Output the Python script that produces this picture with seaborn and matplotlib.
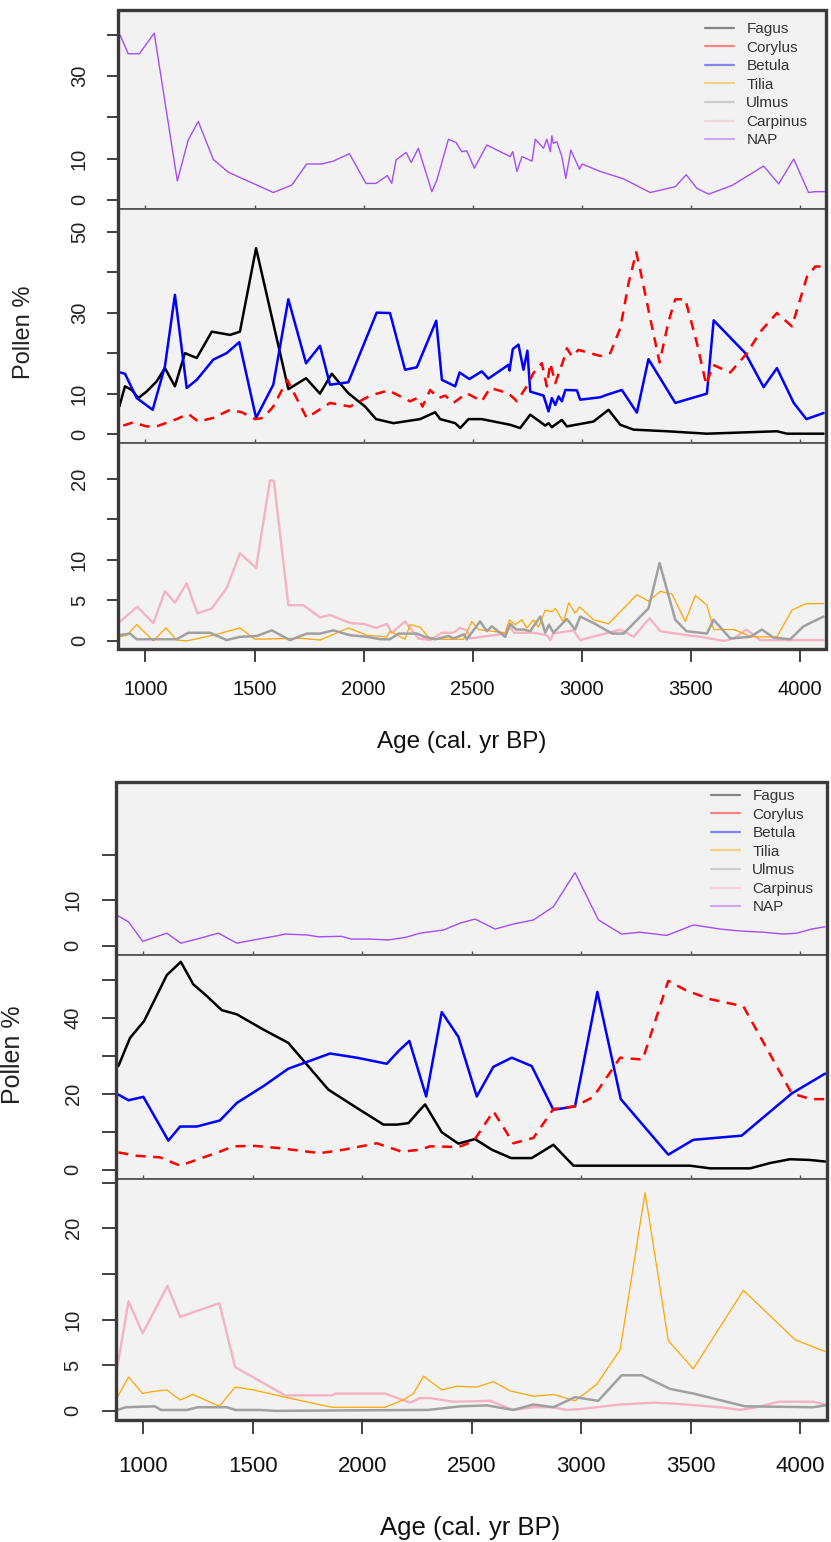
import numpy as np
import pandas as pd
import matplotlib
matplotlib.use('Agg')
import matplotlib.pyplot as plt
import seaborn as sns
from matplotlib.lines import Line2D
from matplotlib.patches import Rectangle

# ---------------- DATA: upper site ----------------
a_nap_age = [883, 921, 972, 1040, 1146, 1196, 1242, 1311, 1380, 1586, 1671, 1739, 1808, 1861, 1935, 2011, 2057, 2109,
             2129, 2149, 2195, 2218, 2251, 2313, 2336, 2389, 2424, 2450, 2473, 2508, 2565, 2672, 2684, 2703, 2726,
             2772, 2787, 2825, 2840, 2856, 2863, 2870, 2886, 2909, 2927, 2950, 2990, 3001, 3085, 3192, 3314, 3429,
             3479, 3528, 3582, 3689, 3834, 3903, 3972, 4040, 4071, 4117]
a_nap_val = [40, 35.4, 35.4, 40.4, 4.6, 14.5, 19, 9.8, 6.7, 1.8, 3.6, 8.7, 8.7, 9.4, 11.2, 4.0, 4.0, 5.9,
             4.0, 9.7, 11.5, 9.1, 12.5, 2.0, 4.8, 14.7, 13.9, 11.7, 11.9, 7.7, 13.3, 10.5, 11.7, 6.9, 10.5,
             9.4, 14.7, 12.5, 14.7, 11.7, 15.5, 13.7, 14.1, 10.5, 5.2, 12.1, 7.4, 8.7, 6.9, 5.1, 1.8, 3.2,
             6.1, 2.8, 1.4, 3.5, 8.2, 3.9, 9.9, 1.8, 2.0, 2.0]

a_fagus_age = [880, 906, 937, 967, 1005, 1051, 1089, 1135, 1181, 1235, 1304, 1388, 1433, 1507, 1655, 1736, 1800, 1854,
               1930, 2007, 2057, 2137, 2259, 2328, 2351, 2420, 2443, 2481, 2542, 2672, 2718, 2764, 2787, 2833, 2848,
               2863, 2909, 2932, 3054, 3123, 3177, 3238, 3391, 3574, 3895, 3941, 4109]
a_fagus_val = [6.8, 11.8, 10.9, 8.9, 10.5, 13.0, 16.3, 11.8, 20.0, 18.8, 25.3, 24.5, 25.3, 45.9, 11.1, 13.8, 10.0, 14.9,
               10.1, 6.8, 3.7, 2.7, 3.7, 5.4, 3.7, 2.7, 1.5, 3.7, 3.7, 2.3, 1.5, 4.8, 3.9, 2.1, 2.7,
               1.7, 3.5, 1.9, 3.1, 6.0, 2.3, 1.1, 0.7, 0.1, 0.7, 0.1, 0.1]

a_betula_age = [886, 906, 960, 1033, 1089, 1135, 1189, 1235, 1311, 1372, 1430, 1507, 1586, 1655, 1736, 1800, 1846, 1930,
                2060, 2121, 2190, 2244, 2333, 2359, 2420, 2440, 2485, 2542, 2572, 2664, 2669, 2684, 2710, 2733, 2751,
                2764, 2825, 2848, 2863, 2879, 2894, 2909, 2925, 2978, 2993, 3085, 3115, 3184, 3253, 3306, 3429, 3574,
                3605, 3750, 3834, 3895, 3972, 4030, 4109]
a_betula_val = [15.2, 14.9, 8.9, 6.0, 16.7, 34.4, 11.4, 13.4, 18.4, 20.0, 22.7, 4.0, 12.2, 33.3, 17.5, 21.8, 12.2, 12.8,
                30.0, 29.9, 15.9, 16.5, 28.0, 13.4, 11.8, 15.2, 13.6, 15.5, 13.7, 17.1, 15.7, 21.0, 22.1, 15.9, 20.6,
                10.5, 9.5, 5.6, 8.9, 7.2, 9.3, 8.1, 10.9, 10.8, 8.5, 9.1, 9.7, 10.9, 5.3, 18.5, 7.7, 10.0,
                28.1, 20.0, 11.6, 16.3, 7.7, 3.7, 5.2]

a_corylus_age = [898, 944, 1005, 1051, 1143, 1196, 1242, 1311, 1388, 1441, 1502, 1540, 1586, 1650, 1739, 1846, 1938,
                 2030, 2114, 2213, 2250, 2270, 2305, 2343, 2374, 2412, 2473, 2542, 2580, 2664, 2703, 2748, 2779, 2817,
                 2840, 2856, 2879, 2917, 2932, 2955, 2985, 3085, 3131, 3177, 3215, 3250, 3268, 3314, 3357, 3398, 3429,
                 3475, 3528, 3571, 3602, 3681, 3758, 3819, 3895, 3964, 4033, 4071, 4109]
a_corylus_val = [2.1, 2.9, 1.9, 1.9, 3.7, 5.0, 3.1, 4.0, 6.0, 5.4, 3.7, 4.0, 6.8, 13.4, 4.0, 7.7, 6.8,
                 9.5, 10.8, 8.1, 9.0, 6.8, 10.9, 8.9, 9.5, 7.7, 10.1, 8.1, 11.4, 10.1, 8.1, 11.8, 15.1, 17.5,
                 11.8, 17.5, 12.6, 18.4, 21.2, 19.2, 20.8, 19.3, 20.0, 26.2, 37.3, 44.9, 40.6, 28.6, 17.7, 27.8, 33.3,
                 33.3, 22.5, 12.2, 17.1, 15.2, 20.0, 25.3, 29.9, 26.6, 38.9, 41.4, 41.4]

a_carpinus_age = [880, 962, 1036, 1089, 1135, 1189, 1238, 1304, 1372, 1433, 1507, 1571, 1589, 1655, 1724, 1800, 1846,
                  1938, 2000, 2057, 2106, 2129, 2190, 2251, 2305, 2359, 2410, 2443, 2473, 2489, 2649, 2672, 2690, 2779,
                  2840, 2856, 2870, 2962, 2993, 3177, 3238, 3311, 3360, 3482, 3544, 3651, 3697, 3755, 3819, 4109]
a_carpinus_val = [2.3, 4.2, 2.2, 6.1, 4.7, 7.1, 3.4, 4.0, 6.5, 10.8, 9.0, 19.8, 19.7, 4.4, 4.4, 2.9, 3.2,
                  2.2, 2.1, 1.6, 2.1, 1.0, 2.4, 0.3, 0.1, 1.0, 1.0, 1.6, 1.3, 0.3, 0.9, 1.7, 1.0, 1.0,
                  0.7, 0.1, 0.9, 1.3, 0.1, 1.4, 0.5, 2.8, 1.2, 0.7, 0.5, 0.0, 0.3, 1.4, 0.1, 0.1]

a_tilia_age = [880, 914, 960, 1036, 1094, 1143, 1189, 1311, 1433, 1502, 1662, 1724, 1800, 1930, 2014, 2106, 2121,
               2190, 2213, 2259, 2305, 2458, 2496, 2527, 2649, 2669, 2695, 2726, 2748, 2779, 2802, 2833, 2863, 2879,
               2917, 2940, 2970, 2990, 3054, 3123, 3253, 3306, 3360, 3413, 3475, 3521, 3574, 3605, 3697, 3780, 3895,
               3964, 4030, 4109]
a_tilia_val = [0.5, 0.7, 2.0, 0.0, 1.6, 0.1, 0.0, 0.7, 1.6, 0.2, 0.3, 0.3, 0.1, 1.6, 0.7, 0.5, 1.2,
               0.2, 2.0, 1.7, 0.2, 0.2, 2.4, 1.4, 1.0, 2.6, 2.0, 2.6, 1.6, 2.6, 1.7, 3.8, 3.6, 4.0,
               2.3, 4.7, 3.4, 4.2, 2.6, 2.1, 5.7, 4.9, 6.1, 5.8, 2.4, 5.6, 4.4, 1.4, 1.4, 0.5, 0.5,
               3.8, 4.6, 4.6]

a_ulmus_age = [880, 929, 960, 1143, 1196, 1296, 1372, 1433, 1510, 1579, 1662, 1740, 1800, 1861, 1938, 2014, 2080,
               2121, 2160, 2244, 2280, 2330, 2390, 2412, 2460, 2473, 2534, 2565, 2588, 2649, 2672, 2700, 2733, 2764,
               2810, 2833, 2850, 2870, 2932, 2970, 2993, 3054, 3140, 3192, 3306, 3357, 3429, 3480, 3574, 3605, 3681,
               3773, 3826, 3880, 3956, 4017, 4109]
a_ulmus_val = [0.7, 0.9, 0.2, 0.2, 1.0, 1.0, 0.1, 0.5, 0.6, 1.3, 0.1, 0.9, 0.9, 1.3, 0.7, 0.5, 0.2,
               0.2, 0.9, 0.9, 0.5, 0.2, 0.6, 0.3, 0.8, 0.2, 2.4, 1.2, 1.8, 0.5, 2.1, 1.4, 1.4, 1.2,
               3.0, 1.0, 2.0, 1.0, 2.7, 1.4, 3.0, 2.2, 0.9, 0.9, 4.0, 9.6, 2.6, 1.2, 0.9, 2.6, 0.3,
               0.5, 1.4, 0.4, 0.2, 1.8, 3.0]

# ---------------- DATA: lower site ----------------
b_nap_age = [881, 932, 997, 1107, 1171, 1244, 1343, 1427, 1503, 1609, 1647, 1746, 1800, 1906, 1950, 2036, 2119, 2200,
             2264, 2371, 2447, 2515, 2607, 2690, 2782, 2873, 2972, 3079, 3185, 3269, 3391, 3513, 3635, 3718, 3832,
             3924, 3985, 4053, 4114]
b_nap_val = [6.7, 5.3, 1.0, 2.8, 0.6, 1.5, 2.8, 0.6, 1.3, 2.2, 2.6, 2.4, 2.0, 2.1, 1.5, 1.5, 1.3, 1.9,
             2.8, 3.5, 5.0, 5.9, 3.7, 4.8, 5.7, 8.6, 16.1, 5.7, 2.6, 3.0, 2.3, 4.6, 3.7, 3.3, 3.0,
             2.6, 2.8, 3.7, 4.2]

b_fagus_age = [886, 939, 1003, 1053, 1107, 1171, 1228, 1290, 1358, 1427, 1548, 1662, 1845, 1975, 2097, 2158, 2211,
               2264, 2287, 2363, 2439, 2515, 2592, 2680, 2774, 2873, 2965, 3497, 3590, 3772, 3863, 3954, 4046, 4114]
b_fagus_val = [27.3, 34.7, 39.1, 44.9, 51.2, 54.7, 48.8, 45.7, 42.0, 40.9, 36.9, 33.4, 21.1, 16.3, 11.9, 11.9, 12.3,
               15.8, 17.2, 9.9, 6.9, 8.1, 5.3, 3.1, 3.1, 6.6, 1.1, 1.1, 0.4, 0.4, 1.8, 2.8, 2.6, 2.2]

b_betula_age = [886, 932, 1000, 1114, 1168, 1244, 1350, 1427, 1548, 1662, 1853, 1975, 2112, 2165, 2215, 2292, 2363,
                2439, 2523, 2599, 2683, 2774, 2873, 2972, 3074, 3181, 3398, 3512, 3733, 3962, 4114]
b_betula_val = [19.8, 18.3, 19.2, 7.7, 11.4, 11.4, 13.0, 17.6, 22.0, 26.6, 30.6, 29.5, 27.9, 31.2, 33.9, 19.3, 41.5,
                35.0, 19.3, 27.1, 29.5, 27.3, 15.8, 16.7, 46.8, 18.6, 4.0, 7.9, 9.0, 20.1, 25.3]

b_corylus_age = [886, 970, 1076, 1168, 1251, 1350, 1411, 1510, 1624, 1807, 1915, 2066, 2180, 2264, 2310, 2439, 2508,
                 2599, 2690, 2782, 2873, 2972, 3056, 3178, 3281, 3398, 3482, 3589, 3741, 3962, 4050, 4114]
b_corylus_val = [4.6, 3.7, 3.3, 1.1, 2.8, 4.8, 6.2, 6.3, 5.7, 4.4, 5.3, 7.0, 4.8, 5.3, 6.2, 6.0, 7.5,
                 15.4, 7.0, 8.4, 16.0, 16.7, 19.2, 29.5, 29.0, 49.7, 47.1, 44.9, 43.0, 20.1, 18.6, 18.6]

b_carpinus_age = [881, 932, 997, 1110, 1168, 1347, 1419, 1647, 1860, 1880, 2104, 2218, 2264, 2310, 2416, 2584, 2690,
                  2782, 2870, 2934, 3000, 3178, 3330, 3421, 3635, 3726, 3802, 3900, 4061, 4114]
b_carpinus_val = [4.8, 12.0, 8.5, 13.7, 10.3, 11.8, 4.8, 1.7, 1.7, 1.9, 1.9, 0.9, 1.4, 1.4, 1.0, 1.1, 0.1,
                  0.4, 0.4, 0.1, 0.2, 0.7, 0.9, 0.8, 0.4, 0.1, 0.4, 1.0, 1.0, 0.7]

b_tilia_age = [881, 932, 997, 1038, 1107, 1168, 1226, 1347, 1419, 1502, 1647, 1860, 2104, 2188, 2234, 2280, 2363,
               2430, 2523, 2599, 2675, 2782, 2873, 2972, 3071, 3178, 3292, 3398, 3512, 3741, 3977, 4114]
b_tilia_val = [1.5, 3.7, 1.9, 2.1, 2.3, 1.2, 1.8, 0.5, 2.6, 2.3, 1.5, 0.4, 0.4, 1.2, 1.9, 3.8, 2.3,
               2.7, 2.6, 3.2, 2.2, 1.6, 1.8, 1.1, 2.9, 6.7, 23.9, 7.7, 4.6, 13.2, 7.8, 6.5]

b_ulmus_age = [881, 920, 1053, 1080, 1198, 1250, 1381, 1420, 1533, 1600, 2264, 2300, 2450, 2569, 2690, 2782, 2873,
               2972, 3078, 3185, 3277, 3407, 3512, 3749, 4061, 4114]
b_ulmus_val = [0.1, 0.4, 0.5, 0.1, 0.1, 0.4, 0.4, 0.1, 0.1, 0.0, 0.1, 0.1, 0.5, 0.6, 0.1, 0.7, 0.4,
               1.5, 1.1, 3.9, 3.9, 2.4, 1.9, 0.5, 0.4, 0.6]

taxa = ['Fagus', 'Corylus', 'Betula', 'Tilia', 'Ulmus', 'Carpinus', 'NAP']
x_ticks = [1000, 1500, 2000, 2500, 3000, 3500, 4000]
x_label = 'Age (cal. yr BP)'
y_label = 'Pollen %'

# ---------------- STYLE ----------------
sns.set_style('white')
plt.rcParams['font.family'] = ['Liberation Sans', 'DejaVu Sans']

STYLE = {
    'Fagus': dict(color='#000000', lw=1.8, ls='-'),
    'Corylus': dict(color='#ff0000', lw=1.8, ls=(0, (4, 3))),
    'Betula': dict(color='#0000ff', lw=1.8, ls='-'),
    'Tilia': dict(color='#ffa500', lw=0.9, ls='-'),
    'Ulmus': dict(color='#a0a0a0', lw=1.8, ls='-'),
    'Carpinus': dict(color='#f5b3c2', lw=1.7, ls='-'),
    'NAP': dict(color='#a64df5', lw=1.0, ls='-'),
}

W, H = 831, 1542
fig = plt.figure(figsize=(W / 100, H / 100), dpi=100)


def add_ax(l, t, r, b):
    return fig.add_axes([l / W, 1 - b / H, (r - l) / W, (b - t) / H])


def draw(ax, name, ages, vals):
    df = pd.DataFrame({'age': ages, 'pct': vals})
    st = STYLE[name]
    sns.lineplot(data=df, x='age', y='pct', ax=ax, color=st['color'], linewidth=st['lw'],
                 linestyle=st['ls'], estimator=None, sort=False, legend=False)


def setup(ax, xlim, ylim, yticks, ylabels, bottom, ytl, ypad, yfs, xtl, xpad, xfs):
    ax.set_facecolor('#f2f2f2')
    ax.set_xlim(xlim)
    ax.set_ylim(ylim)
    ax.set_xlabel('')
    ax.set_ylabel('')
    ax.set_yticks(yticks)
    ax.set_yticklabels(ylabels, rotation=90, va='center', ha='right', fontsize=yfs, color='#222222')
    ax.tick_params(axis='y', left=True, direction='out', length=ytl, width=1.3, pad=ypad, color='#333333')
    ax.set_xticks(x_ticks)
    if bottom:
        ax.set_xticklabels([str(t) for t in x_ticks], fontsize=xfs, color='#111111')
        ax.tick_params(axis='x', bottom=True, direction='out', length=xtl, width=1.3, pad=xpad, color='#333333')
    else:
        ax.set_xticklabels([])
        ax.tick_params(axis='x', bottom=True, direction='in', length=3, width=1.0, color='#555555')
    for sp in ax.spines.values():
        sp.set_linewidth(1.3)
        sp.set_color('#555555')
    ax.grid(False)


def legend(ax, x_px, y_px):
    handles = [Line2D([0], [0], color=STYLE[t]['color'], lw=1.6, alpha=0.45) for t in taxa]
    leg = ax.legend(handles, taxa, loc='upper left', bbox_to_anchor=(x_px / W, 1 - y_px / H),
                    bbox_transform=fig.transFigure, frameon=False, fontsize=11, handlelength=1.9,
                    handletextpad=0.8, labelspacing=0.3, borderpad=0, borderaxespad=0)
    for txt in leg.get_texts():
        txt.set_color('#333333')


def frame(l, t, r, b):
    fig.add_artist(Rectangle((l / W, 1 - b / H), (r - l) / W, (b - t) / H, transform=fig.transFigure,
                             fill=False, lw=2.4, ec='#3a3a3a', zorder=20))


# ---------------- UPPER SITE ----------------
xl_a = (874, 4120)
ax1 = add_ax(118, 10, 826, 209)
draw(ax1, 'NAP', a_nap_age, a_nap_val)
setup(ax1, xl_a, (-2.2, 46), [0, 10, 20, 30, 40], ['0', '10', '', '30', ''], False, 8, 13, 14.5, 9.5, 13, 14.5)
legend(ax1, 705, 22)

ax2 = add_ax(118, 209, 826, 443)
draw(ax2, 'Fagus', a_fagus_age, a_fagus_val)
draw(ax2, 'Betula', a_betula_age, a_betula_val)
draw(ax2, 'Corylus', a_corylus_age, a_corylus_val)
setup(ax2, xl_a, (-2.2, 55.6), [0, 10, 20, 30, 40, 50], ['0', '10', '', '30', '', '50'], False, 8, 13, 14.5, 9.5, 13, 14.5)

ax3 = add_ax(118, 443, 826, 649)
draw(ax3, 'Carpinus', a_carpinus_age, a_carpinus_val)
draw(ax3, 'Tilia', a_tilia_age, a_tilia_val)
draw(ax3, 'Ulmus', a_ulmus_age, a_ulmus_val)
setup(ax3, xl_a, (-1.0, 24.4), [0, 5, 10, 15, 20], ['0', '5', '10', '', '20'], True, 8, 13, 14.5, 9.5, 13, 14.5)
frame(118, 10, 826, 649)

fig.text(462 / W, 1 - 742 / H, x_label, ha='center', va='center', fontsize=17.5, color='#111111')
fig.text(24 / W, 1 - 332 / H, y_label, ha='center', va='center', rotation=90, fontsize=17, color='#222222')

# ---------------- LOWER SITE ----------------
xl_b = (875, 4123)
bx1 = add_ax(116, 782, 827, 955)
draw(bx1, 'NAP', b_nap_age, b_nap_val)
setup(bx1, xl_b, (-2.0, 36), [0, 10, 20], ['0', '10', ''], False, 10, 14, 14.5, 10, 16, 16)
legend(bx1, 711, 789)

bx2 = add_ax(116, 955, 827, 1179)
draw(bx2, 'Fagus', b_fagus_age, b_fagus_val)
draw(bx2, 'Betula', b_betula_age, b_betula_val)
draw(bx2, 'Corylus', b_corylus_age, b_corylus_val)
setup(bx2, xl_b, (-2.4, 56.5), [0, 10, 20, 30, 40, 50], ['0', '', '20', '', '40', ''], False, 10, 14, 14.5, 10, 16, 16)

bx3 = add_ax(116, 1179, 827, 1420)
draw(bx3, 'Carpinus', b_carpinus_age, b_carpinus_val)
draw(bx3, 'Tilia', b_tilia_age, b_tilia_val)
draw(bx3, 'Ulmus', b_ulmus_age, b_ulmus_val)
setup(bx3, xl_b, (-1.0, 25.4), [0, 5, 10, 15, 20, 25], ['0', '5', '10', '', '20', ''], True, 10, 14, 14.5, 10, 16, 16)
frame(116, 782, 827, 1420)

fig.text(470 / W, 1 - 1528 / H, x_label, ha='center', va='center', fontsize=18.5, color='#111111')
fig.text(13 / W, 1 - 1055 / H, y_label, ha='center', va='center', rotation=90, fontsize=18, color='#222222')

fig.savefig('out.png', dpi=100, facecolor='white')
